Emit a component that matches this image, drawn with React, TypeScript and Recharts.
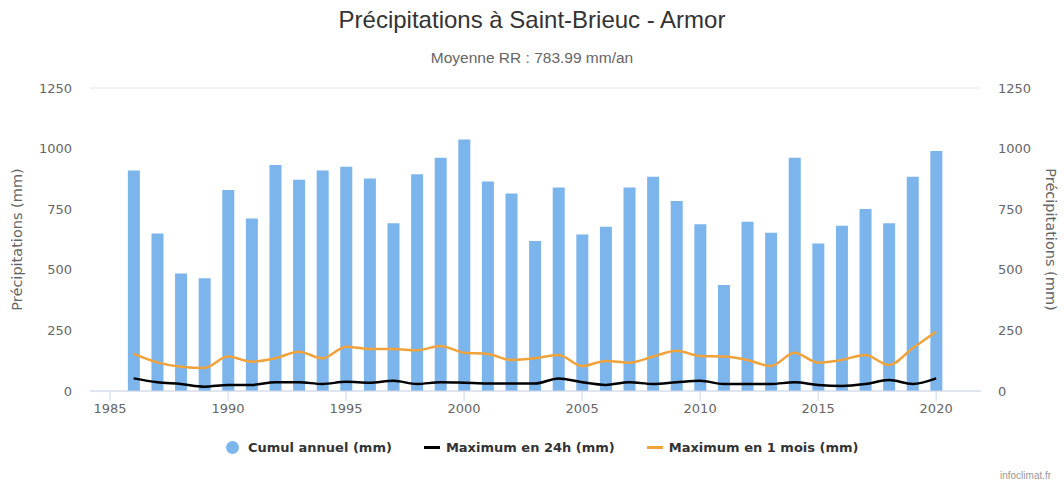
import { Bar, CartesianGrid, ComposedChart, Line, XAxis, YAxis } from "recharts";

const years = [
  1986, 1987, 1988, 1989, 1990, 1991, 1992, 1993, 1994, 1995, 1996, 1997, 1998, 1999, 2000, 2001, 2002, 2003,
  2004, 2005, 2006, 2007, 2008, 2009, 2010, 2011, 2012, 2013, 2014, 2015, 2016, 2017, 2018, 2019, 2020,
];
const cumulAnnuel = [
  910, 650, 485, 465, 829, 712, 932, 872, 910, 925, 877, 692, 894, 962, 1038, 864, 815, 619, 840, 646, 678, 840,
  884, 784, 688, 437, 698, 653, 962, 609, 682, 751, 692, 884, 990,
];
const max24h = [
  52, 36, 29, 18, 25, 25, 36, 36, 29, 38, 34, 42, 29, 36, 34, 31, 31, 31, 52, 36, 25, 36, 29, 36, 42, 29, 29, 29,
  36, 25, 21, 29, 45, 29, 52,
];
const max1mois = [
  153, 118, 100, 95, 142, 121, 135, 162, 135, 183, 173, 173, 168, 186, 158, 153, 128, 135, 149, 103, 124, 117,
  142, 166, 144, 142, 128, 103, 158, 117, 128, 149, 107, 176, 245,
];
const yTicks = [0, 250, 500, 750, 1000, 1250];
const xTicks = [1985, 1990, 1995, 2000, 2005, 2010, 2015, 2020];

const data = years.map((year, i) => ({
  year,
  cumul: cumulAnnuel[i],
  max24: max24h[i],
  max1m: max1mois[i],
}));

const font = "'Liberation Sans', Arial, sans-serif";
const tickFont = "'DejaVu Sans', sans-serif";
const BLUE = "#7cb5ec";
const ORANGE = "#f0a23b";

export default function App() {
  return (
    <div style={{ position: "absolute", left: 0, top: 0, width: 1064, height: 481, background: "#fff", fontFamily: font }}>
      <div style={{ position: "absolute", top: 6, width: 1064, textAlign: "center", fontSize: 24, color: "#333" }}>
        Précipitations à Saint-Brieuc - Armor
      </div>
      <div style={{ position: "absolute", top: 49, width: 1064, textAlign: "center", fontSize: 15.5, color: "#666" }}>
        Moyenne RR : 783.99 mm/an
      </div>
      <ComposedChart width={1064} height={481} data={data} margin={{ top: 88, right: 0, bottom: 0, left: 0 }}>
        <CartesianGrid stroke="#e6e6e6" vertical={false} />
        <XAxis
          dataKey="year"
          type="number"
          domain={[1984.15, 2021.9]}
          ticks={xTicks}
          allowDataOverflow
          stroke="#ccd6eb"
          tickSize={10}
          tickMargin={3}
          height={90}
          tick={{ fill: "#666", fontSize: 13, fontFamily: tickFont }}
        />
        <YAxis
          yAxisId="left"
          domain={[0, 1250]}
          ticks={yTicks}
          width={90}
          axisLine={false}
          tickLine={false}
          tickMargin={12}
          tick={{ fill: "#666", fontSize: 13, fontFamily: tickFont }}
          label={{ value: "Précipitations (mm)", angle: -90, position: "insideLeft", offset: 17, style: { fill: "#666", fontSize: 14.5, textAnchor: "middle", fontFamily: tickFont } }}
        />
        <YAxis
          yAxisId="right"
          orientation="right"
          domain={[0, 1250]}
          ticks={yTicks}
          width={83}
          axisLine={false}
          tickLine={false}
          tickMargin={11}
          tick={{ fill: "#666", fontSize: 13, fontFamily: tickFont, textAnchor: "start" }}
          label={{ value: "Précipitations (mm)", angle: 90, position: "insideRight", offset: 13, style: { fill: "#666", fontSize: 14.5, textAnchor: "middle", fontFamily: tickFont } }}
        />
        <Bar yAxisId="left" dataKey="cumul" fill={BLUE} barSize={12} isAnimationActive={false} />
        <Line yAxisId="right" type="monotone" dataKey="max24" stroke="#000" strokeWidth={2.5} dot={false} isAnimationActive={false} />
        <Line yAxisId="right" type="monotone" dataKey="max1m" stroke={ORANGE} strokeWidth={2.5} dot={false} isAnimationActive={false} />
      </ComposedChart>
      <div
        style={{
          position: "absolute",
          top: 440,
          left: 226,
          display: "flex",
          gap: 32,
          fontSize: 13,
          fontWeight: "bold",
          color: "#333",
          fontFamily: tickFont,
          whiteSpace: "nowrap",
        }}
      >
        <span style={{ display: "flex", alignItems: "center" }}>
          <span style={{ width: 13, height: 13, borderRadius: 7, background: BLUE, marginRight: 9 }} />
          Cumul annuel (mm)
        </span>
        <span style={{ display: "flex", alignItems: "center" }}>
          <span style={{ width: 16, height: 3, background: "#000", marginRight: 6 }} />
          Maximum en 24h (mm)
        </span>
        <span style={{ display: "flex", alignItems: "center" }}>
          <span style={{ width: 16, height: 3, background: ORANGE, marginRight: 6 }} />
          Maximum en 1 mois (mm)
        </span>
      </div>
      <div style={{ position: "absolute", left: 1000, top: 470, fontSize: 10, color: "#999", whiteSpace: "nowrap" }}>infoclimat.fr</div>
    </div>
  );
}
